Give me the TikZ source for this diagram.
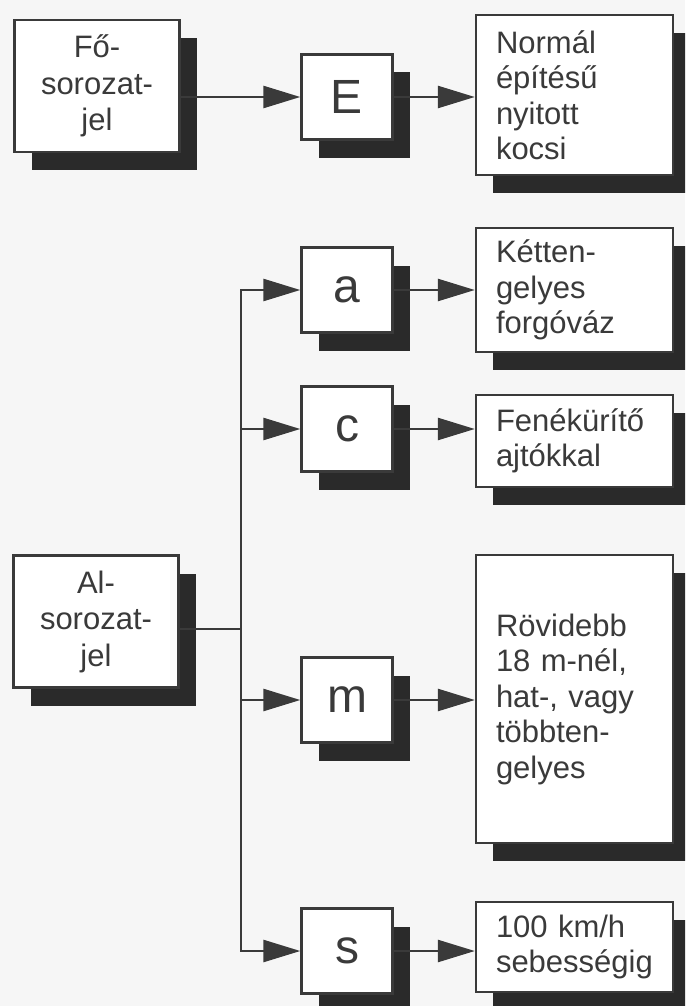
\documentclass[tikz,border=0pt]{standalone}
\usepackage{fontspec}
\setmainfont{Liberation Sans}
\usepackage{tikz}
\usetikzlibrary{arrows.meta,shadows}
\definecolor{ink}{RGB}{58,58,58}
\definecolor{shade}{RGB}{42,42,42}
\definecolor{paper}{RGB}{246,246,246}

\begin{document}
\begin{tikzpicture}[x=1pt,y=-1pt,
  box/.style={draw=ink,line width=2.4pt,fill=white,text=ink,inner sep=0pt,
    drop shadow={shadow xshift=17pt,shadow yshift=-18pt,opacity=1,fill=shade}},
  lbox/.style={box,minimum width=91pt,minimum height=85pt,font=\fontsize{48}{48}\selectfont},
  wbox/.style={box,align=left,text width=157pt,inner xsep=20pt,font=\fontsize{31}{35.5}\selectfont},
  sbox/.style={box,align=center,minimum width=165pt,minimum height=132pt,font=\fontsize{31}{36.5}\selectfont},
  wire/.style={draw=ink,line width=2.6pt},
  arr/.style={wire,-{Triangle[length=37pt,width=22pt]}}]
  \fill[paper] (0,0) rectangle (685,1006);
  \useasboundingbox (0,0) rectangle (685,1006);
  \clip (0,0) rectangle (685,1006);
  % main series
  \node[sbox] (fo) at (97,86) {Fő-\\sorozat-\\jel};
  \node[wbox,minimum height=160pt] (norm) at (574.5,95) {Normál\\építésű\\nyitott\\kocsi};
  % sub series
  \node[sbox] (al) at (96,621.5) {Al-\\sorozat-\\jel};
  \node[wbox,minimum height=124pt] (ket) at (574.5,290) {Kétten-\\gelyes\\forgóváz};
  \node[wbox,minimum height=92pt] (fen) at (574.5,441) {Fenékürítő\\ajtókkal};
  \node[wbox,minimum height=288pt] (rov) at (574.5,699) {Rövidebb\\18 m-nél,\\hat-, vagy\\többten-\\gelyes};
  \node[wbox,minimum height=90pt] (seb) at (574.5,947) {100 km/h\\sebességig};
  % letter codes
  \foreach \n/\y in {E/97,a/290,c/429,m/700,s/951}
    \node[lbox] (\n) at (347,\y) {\n};
  \foreach \n/\d in {E/norm,a/ket,c/fen,m/rov,s/seb}
    \draw[arr] (\n.east) -- (\n.east -| \d.west);
  \draw[arr] (fo.east |- E.west) -- (E.west);
  \coordinate (bus) at (241,629);
  \draw[wire] (al.east |- bus) -- (bus);
  \foreach \n in {a,c,m,s}
    \draw[arr] (bus) |- (\n.west);
\end{tikzpicture}
\end{document}
